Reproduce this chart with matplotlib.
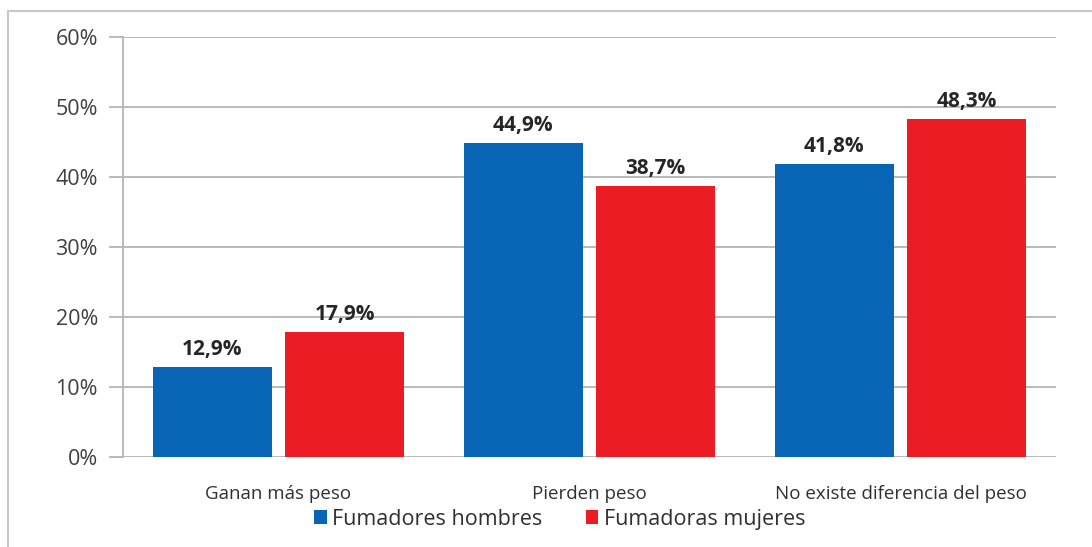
import matplotlib.pyplot as plt
import numpy as np
from matplotlib.patches import Rectangle

categorias = ['Ganan más peso', 'Pierden peso', 'No existe diferencia del peso']
hombres = [12.9, 44.9, 41.8]
mujeres = [17.9, 38.7, 48.3]
series = ['Fumadores hombres', 'Fumadoras mujeres']
yticks = [0, 10, 20, 30, 40, 50, 60]

azul = '#0865b6'
rojo = '#ec1c24'
gris = '#b4b4b4'

plt.rcParams['font.family'] = ['Open Sans', 'DejaVu Sans']

fig = plt.figure(figsize=(10.92, 5.47), dpi=100)
fig.patches.append(Rectangle((8 / 1092, -0.1), 1.2, 1.1 - 11 / 547,
                             transform=fig.transFigure, fill=False,
                             edgecolor='#c8c8c8', linewidth=1.5))
ax = fig.add_axes([123 / 1092, 1 - 457 / 547, 933 / 1092, 420 / 547])

x = np.arange(len(categorias))
w = 0.38
off = 0.2125
b1 = ax.bar(x - off, hombres, w, color=azul, label=series[0], zorder=3)
b2 = ax.bar(x + off, mujeres, w, color=rojo, label=series[1], zorder=3)

for bars, vals in ((b1, hombres), (b2, mujeres)):
    for b, v in zip(bars, vals):
        ax.annotate(f'{v:.1f}%'.replace('.', ','),
                    (b.get_x() + b.get_width() / 2, v),
                    xytext=(0, 5), textcoords='offset points',
                    ha='center', va='bottom', fontsize=15,
                    fontweight='bold', color='#262626')

ax.set_xlim(-0.5, 2.5)
ax.set_ylim(0, 60)
ax.set_yticks(yticks)
ax.set_yticklabels([f'{t}%' for t in yticks], fontsize=15.5, color='#404040')
ax.yaxis.grid(True, color=gris, linewidth=1.3, zorder=0)
ax.tick_params(axis='y', length=10, color=gris, width=1.3, pad=8)
ax.set_xticks(x)
ax.set_xticklabels(categorias, fontsize=13.5, color='#303030')
ax.tick_params(axis='x', length=0, pad=20)
for s in ('top', 'right', 'bottom'):
    ax.spines[s].set_visible(False)
ax.spines['left'].set_color(gris)
ax.spines['left'].set_linewidth(1.3)

ax.legend(loc='center', bbox_to_anchor=(0.468, -0.148), ncol=2,
          frameon=False, fontsize=15.5, handlelength=0.6, handleheight=0.6,
          handletextpad=0.25, columnspacing=2.0, labelcolor='#303030')

fig.savefig('out.png', dpi=100)
